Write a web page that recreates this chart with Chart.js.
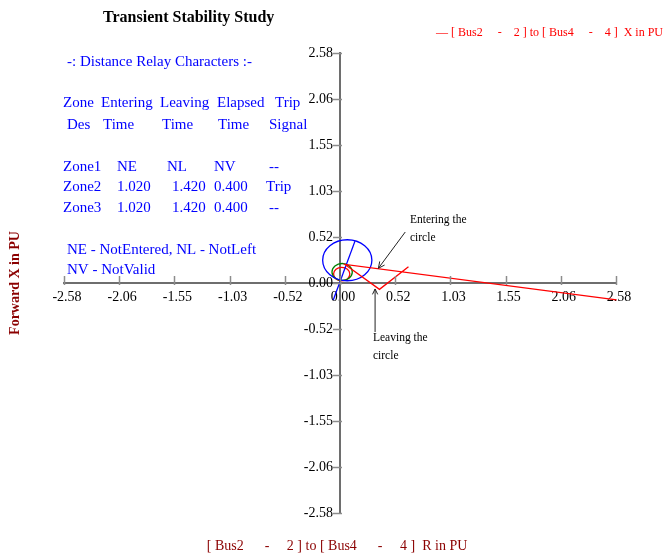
<!DOCTYPE html>
<html>
<head>
<meta charset="utf-8">
<title>Transient Stability Study</title>
<script src="https://cdn.jsdelivr.net/npm/chart.js@4.4.1/dist/chart.umd.min.js"></script>
<style>
  html, body { margin: 0; padding: 0; background: #ffffff; }
  #wrap { position: relative; width: 663px; height: 558px; }
</style>
</head>
<body>
<div id="wrap"><canvas id="c" width="663" height="558"></canvas></div>
<script>
// ---- axis ticks (same on R and X axes, pu) ----
const axisTicks = [-2.58, -2.064, -1.548, -1.032, -0.516, 0, 0.516, 1.032, 1.548, 2.064, 2.58];
const axisTickLabels = ['-2.58', '-2.06', '-1.55', '-1.03', '-0.52', '0.00', '0.52', '1.03', '1.55', '2.06', '2.58'];

// ---- apparent impedance trajectory seen by the relay (R, X in pu) ----
const trajR = [2.585, 0.047, 0.369, 0.640];
const trajX = [-0.190, 0.208, -0.071, 0.183];

// ---- mho zone circles: centre (R, X) and radius in pu ----
const zoneCenterR = [0.016, 0.020, 0.068];
const zoneCenterX = [0.100, 0.124, 0.255];
const zoneRadius  = [0.076, 0.095, 0.230];

// ---- relay characteristic angle line through the origin ----
const rcaR = [-0.063, 0.140];
const rcaX = [-0.190, 0.470];

// ---- relay summary table ----
const zoneNames     = ['Zone1', 'Zone2', 'Zone3'];
const enteringTimes = ['NE', '1.020', '1.020'];
const leavingTimes  = ['NL', '1.420', '1.420'];
const elapsedTimes  = ['NV', '0.400', '0.400'];
const tripSignals   = ['--', 'Trip', '--'];

const zoneColors = ['#ff0000', '#008000', '#0000ff'];
const SERIF = '"Liberation Serif", "Times New Roman", serif';

const trajectory = trajR.map((r, i) => ({ x: r, y: trajX[i] }));
const rcaLine = rcaR.map((r, i) => ({ x: r, y: rcaX[i] }));

function arrowHead(ctx, x1, y1, x2, y2, len) {
  const a = Math.atan2(y2 - y1, x2 - x1);
  ctx.beginPath();
  ctx.moveTo(x2 - len * Math.cos(a - 0.45), y2 - len * Math.sin(a - 0.45));
  ctx.lineTo(x2, y2);
  ctx.lineTo(x2 - len * Math.cos(a + 0.45), y2 - len * Math.sin(a + 0.45));
  ctx.stroke();
}

const relayOverlay = {
  id: 'relayOverlay',
  beforeDatasetsDraw(chart) {
    const { ctx, scales: { x, y } } = chart;
    ctx.save();
    ctx.lineWidth = 1.3;
    for (let i = 0; i < zoneRadius.length; i++) {
      const cx = x.getPixelForValue(zoneCenterR[i]);
      const cy = y.getPixelForValue(zoneCenterX[i]);
      const rx = Math.abs(x.getPixelForValue(zoneCenterR[i] + zoneRadius[i]) - cx);
      const ry = Math.abs(y.getPixelForValue(zoneCenterX[i] + zoneRadius[i]) - cy);
      ctx.strokeStyle = zoneColors[i];
      ctx.beginPath();
      ctx.ellipse(cx, cy, rx, ry, 0, 0, Math.PI * 2);
      ctx.stroke();
    }
    ctx.restore();
  },
  afterDatasetsDraw(chart) {
    const { ctx, scales: { x, y } } = chart;
    const x0 = x.getPixelForValue(0);
    const y0 = y.getPixelForValue(0);
    ctx.save();

    // small tick marks crossing both axes
    ctx.strokeStyle = '#8c8c8c';
    ctx.lineWidth = 1.5;
    x.ticks.forEach(t => {
      const px = Math.round(x.getPixelForValue(t.value)) + 0.5;
      ctx.beginPath(); ctx.moveTo(px, y0 - 7); ctx.lineTo(px, y0 + 2); ctx.stroke();
    });
    y.ticks.forEach(t => {
      const py = Math.round(y.getPixelForValue(t.value)) + 0.5;
      ctx.beginPath(); ctx.moveTo(x0 - 7, py); ctx.lineTo(x0 + 2, py); ctx.stroke();
    });

    // notes on the trajectory
    ctx.strokeStyle = '#222222';
    ctx.lineWidth = 1;
    ctx.fillStyle = '#000000';
    ctx.font = '11.5px ' + SERIF;
    ctx.textBaseline = 'middle';
    ctx.textAlign = 'left';

    const eTail = [x.getPixelForValue(0.61), y.getPixelForValue(0.572)];
    const eTip = [x.getPixelForValue(0.359), y.getPixelForValue(0.165)];
    ctx.beginPath(); ctx.moveTo(eTail[0], eTail[1]); ctx.lineTo(eTip[0], eTip[1]); ctx.stroke();
    arrowHead(ctx, eTail[0], eTail[1], eTip[0], eTip[1], 7);
    ctx.fillText('Entering the', x.getPixelForValue(0.654), y.getPixelForValue(0.706));
    ctx.fillText('circle', x.getPixelForValue(0.654), y.getPixelForValue(0.505));

    const lTail = [x.getPixelForValue(0.328), y.getPixelForValue(-0.55)];
    const lTip = [x.getPixelForValue(0.328), y.getPixelForValue(-0.067)];
    ctx.beginPath(); ctx.moveTo(lTail[0], lTail[1]); ctx.lineTo(lTip[0], lTip[1]); ctx.stroke();
    arrowHead(ctx, lTail[0], lTail[1], lTip[0], lTip[1], 6);
    ctx.fillText('Leaving the', x.getPixelForValue(0.308), y.getPixelForValue(-0.617));
    ctx.fillText('circle', x.getPixelForValue(0.308), y.getPixelForValue(-0.819));
    ctx.restore();
  },
  afterDraw(chart) {
    const { ctx, chartArea } = chart;
    ctx.save();
    ctx.textBaseline = 'middle';

    // title
    ctx.fillStyle = '#000000';
    ctx.textAlign = 'left';
    ctx.font = 'bold 16px ' + SERIF;
    ctx.fillText('Transient Stability Study', 103, 18);

    // series key
    ctx.fillStyle = '#ff0000';
    ctx.font = '12px ' + SERIF;
    ctx.fillText('\u2014 [ Bus2     -    2 ] to [ Bus4     -    4 ]  X in PU', 436, 33);

    // axis titles
    ctx.fillStyle = '#8b0000';
    ctx.textAlign = 'center';
    ctx.font = '14px ' + SERIF;
    ctx.fillText('[ Bus2      -     2 ] to [ Bus4      -     4 ]  R in PU', 337, 546);
    ctx.save();
    ctx.translate(15, (chartArea.top + chartArea.bottom) / 2);
    ctx.rotate(-Math.PI / 2);
    ctx.font = 'bold 14px ' + SERIF;
    ctx.fillText('Forward X in PU', 0, 0);
    ctx.restore();

    // relay summary block
    ctx.fillStyle = '#0000ff';
    ctx.textAlign = 'left';
    ctx.font = '15px ' + SERIF;
    ctx.fillText('-: Distance Relay Characters :-', 67, 62);
    const head1 = [['Zone', 63], ['Entering', 101], ['Leaving', 160], ['Elapsed', 217], ['Trip', 275]];
    const head2 = [['Des', 67], ['Time', 103], ['Time', 162], ['Time', 218], ['Signal', 269]];
    head1.forEach(([t, px]) => ctx.fillText(t, px, 103.5));
    head2.forEach(([t, px]) => ctx.fillText(t, px, 125));
    const rowY = [167, 187.5, 208.5];
    zoneNames.forEach((z, i) => {
      ctx.fillText(z, 63, rowY[i]);
      ctx.fillText(enteringTimes[i], 117, rowY[i]);
      ctx.fillText(leavingTimes[i], leavingTimes[i] === 'NL' ? 167 : 172, rowY[i]);
      ctx.fillText(elapsedTimes[i], 214, rowY[i]);
      ctx.fillText(tripSignals[i], tripSignals[i] === 'Trip' ? 266 : 269, rowY[i]);
    });
    ctx.fillText('NE - NotEntered, NL - NotLeft', 67, 250);
    ctx.fillText('NV - NotValid', 67, 270);
    ctx.restore();
  }
};

const tickFont = { family: SERIF, size: 14 };

new Chart(document.getElementById('c'), {
  type: 'scatter',
  data: {
    datasets: [
      {
        label: '[ Bus2 - 2 ] to [ Bus4 - 4 ] X in PU',
        data: trajectory,
        showLine: true,
        borderColor: '#ff0000',
        borderWidth: 1.3,
        pointRadius: 0,
        fill: false,
        tension: 0,
        clip: false
      },
      {
        label: 'Relay angle',
        data: rcaLine,
        showLine: true,
        borderColor: '#0000ff',
        borderWidth: 1.3,
        pointRadius: 0,
        fill: false,
        tension: 0
      }
    ]
  },
  options: {
    responsive: false,
    animation: false,
    devicePixelRatio: 1,
    layout: { padding: { left: 64, right: 47, top: 53, bottom: 45 } },
    plugins: {
      legend: { display: false },
      title: { display: false },
      tooltip: { enabled: false }
    },
    scales: {
      x: {
        type: 'linear',
        min: -2.58,
        max: 2.58,
        position: { y: 0 },
        afterBuildTicks: s => { s.ticks = axisTicks.map(v => ({ value: v })); },
        ticks: {
          autoSkip: false,
          maxRotation: 0,
          padding: 6,
          labelOffset: 3,
          color: '#000000',
          font: tickFont,
          callback: (v, i) => axisTickLabels[i]
        },
        grid: { drawOnChartArea: false, drawTicks: false },
        border: { display: true, color: '#6e6e6e', width: 2 }
      },
      y: {
        type: 'linear',
        min: -2.58,
        max: 2.58,
        position: { x: 0 },
        afterBuildTicks: s => { s.ticks = axisTicks.map(v => ({ value: v })); },
        ticks: {
          autoSkip: false,
          color: '#000000',
          font: tickFont,
          callback: (v, i) => axisTickLabels[i] + '  '
        },
        grid: { drawOnChartArea: false, drawTicks: false },
        border: { display: true, color: '#6e6e6e', width: 2 }
      }
    }
  },
  plugins: [relayOverlay]
});
</script>
</body>
</html>
